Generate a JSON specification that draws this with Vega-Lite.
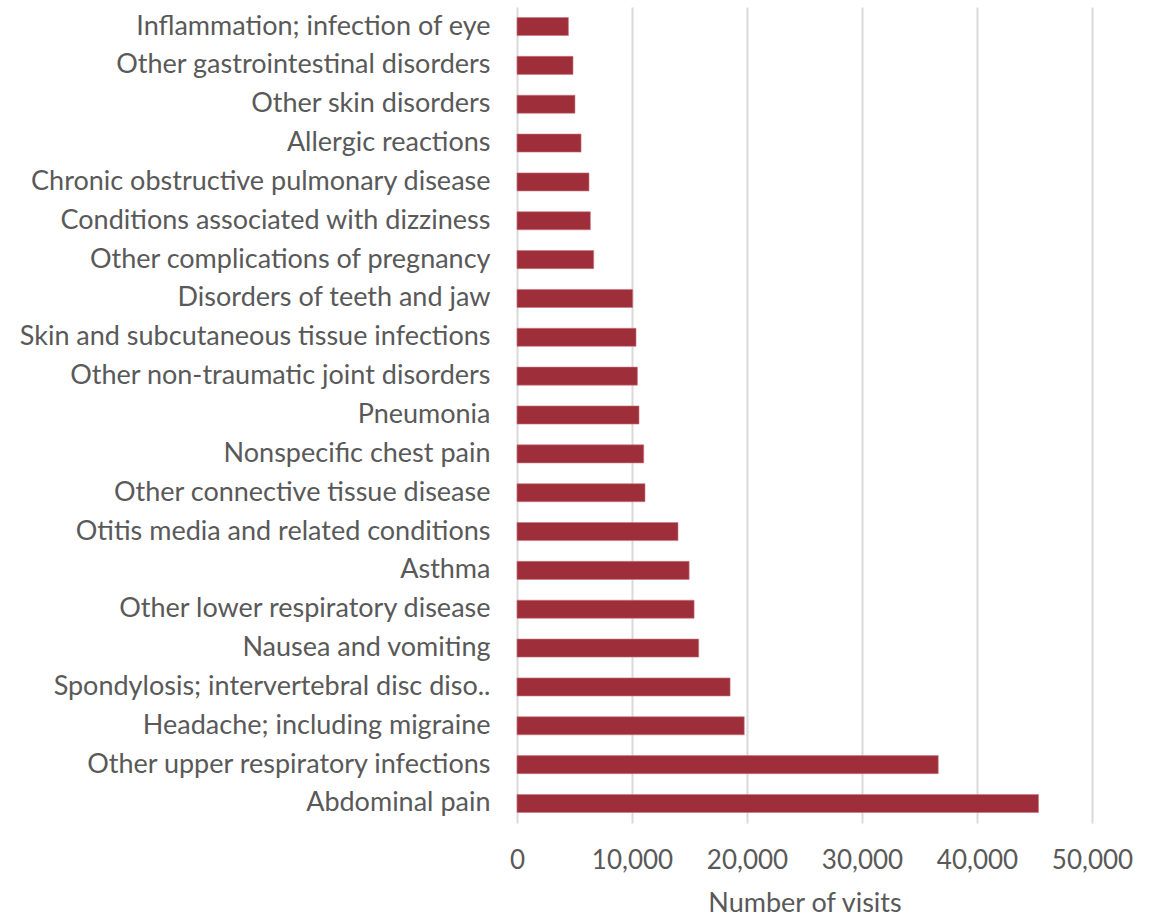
{
  "$schema": "https://vega.github.io/schema/vega-lite/v6.json",
  "width": 575,
  "height": 816,
  "autosize": {"type": "none"},
  "padding": {"left": 517, "top": 7, "right": 61, "bottom": 96},
  "background": "white",
  "data": {
    "values": [
      {"diagnosis": "Inflammation; infection of eye", "visits": 4470},
      {"diagnosis": "Other gastrointestinal disorders", "visits": 4870},
      {"diagnosis": "Other skin disorders", "visits": 5040},
      {"diagnosis": "Allergic reactions", "visits": 5570},
      {"diagnosis": "Chronic obstructive pulmonary disease", "visits": 6260},
      {"diagnosis": "Conditions associated with dizziness", "visits": 6380},
      {"diagnosis": "Other complications of pregnancy", "visits": 6670},
      {"diagnosis": "Disorders of teeth and jaw", "visits": 10060},
      {"diagnosis": "Skin and subcutaneous tissue infections", "visits": 10350},
      {"diagnosis": "Other non-traumatic joint disorders", "visits": 10470},
      {"diagnosis": "Pneumonia", "visits": 10610},
      {"diagnosis": "Nonspecific chest pain", "visits": 11020},
      {"diagnosis": "Other connective tissue disease", "visits": 11130},
      {"diagnosis": "Otitis media and related conditions", "visits": 14000},
      {"diagnosis": "Asthma", "visits": 14970},
      {"diagnosis": "Other lower respiratory disease", "visits": 15400},
      {"diagnosis": "Nausea and vomiting", "visits": 15800},
      {"diagnosis": "Spondylosis; intervertebral disc diso..", "visits": 18530},
      {"diagnosis": "Headache; including migraine", "visits": 19760},
      {"diagnosis": "Other upper respiratory infections", "visits": 36630},
      {"diagnosis": "Abdominal pain", "visits": 45350}
    ]
  },
  "mark": {"type": "bar", "color": "#9E2F3A", "stroke": "#c9777f", "strokeWidth": 0.6},
  "encoding": {
    "y": {
      "field": "diagnosis",
      "type": "nominal",
      "sort": null,
      "scale": {"paddingInner": 0.535, "paddingOuter": 0.27},
      "axis": {
        "title": null,
        "ticks": false,
        "domain": false,
        "grid": false,
        "labelFont": "Lato",
        "labelFontSize": 27,
        "labelColor": "#595959",
        "labelPadding": 27,
        "labelLimit": 600
      }
    },
    "x": {
      "field": "visits",
      "type": "quantitative",
      "scale": {"domain": [0, 50000], "nice": false},
      "axis": {
        "title": "Number of visits",
        "values": [0, 10000, 20000, 30000, 40000, 50000],
        "format": ",d",
        "ticks": false,
        "domain": false,
        "grid": true,
        "gridColor": "#d9d9d9",
        "gridWidth": 2,
        "labelOverlap": false,
        "labelFlush": false,
        "labelFont": "Lato",
        "labelFontSize": 26,
        "labelColor": "#595959",
        "labelPadding": 24,
        "titleFont": "Lato",
        "titleFontSize": 27,
        "titleFontWeight": "normal",
        "titleColor": "#595959",
        "titlePadding": 17
      }
    }
  },
  "config": {"view": {"stroke": null}}
}
